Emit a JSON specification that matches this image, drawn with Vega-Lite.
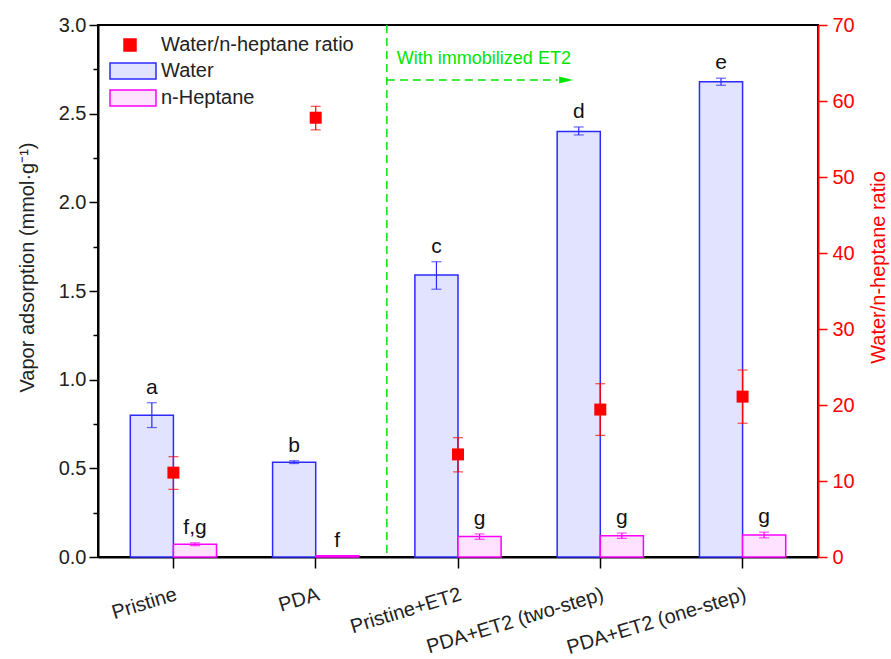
{
  "$schema": "https://vega.github.io/schema/vega-lite/v6.json",
  "width": 720,
  "height": 532,
  "autosize": {"type": "none"},
  "padding": {"left": 98, "top": 25, "right": 73, "bottom": 102},
  "background": "white",
  "config": {
    "font": "Liberation Sans",
    "view": {"stroke": "black", "strokeWidth": 2},
    "axis": {
      "grid": false,
      "labelFont": "Liberation Sans",
      "titleFont": "Liberation Sans",
      "labelFontSize": 20,
      "titleFontSize": 20,
      "titleFontWeight": "normal",
      "labelColor": "#222222",
      "titleColor": "#222222",
      "domainColor": "black",
      "tickColor": "black",
      "domainWidth": 2,
      "tickWidth": 1.5
    }
  },
  "datasets": {
    "bars": [
      {"sample": "Pristine", "series": "Water", "value": 0.80, "lo": 0.73, "hi": 0.87, "letter": "a"},
      {"sample": "PDA", "series": "Water", "value": 0.535, "lo": 0.527, "hi": 0.543, "letter": "b"},
      {"sample": "Pristine+ET2", "series": "Water", "value": 1.59, "lo": 1.51, "hi": 1.665, "letter": "c"},
      {"sample": "PDA+ET2 (two-step)", "series": "Water", "value": 2.40, "lo": 2.38, "hi": 2.425, "letter": "d"},
      {"sample": "PDA+ET2 (one-step)", "series": "Water", "value": 2.68, "lo": 2.66, "hi": 2.70, "letter": "e"},
      {"sample": "Pristine", "series": "n-Heptane", "value": 0.072, "lo": 0.064, "hi": 0.08, "letter": "f,g"},
      {"sample": "PDA", "series": "n-Heptane", "value": 0.007, "lo": 0.006, "hi": 0.008, "letter": "f"},
      {"sample": "Pristine+ET2", "series": "n-Heptane", "value": 0.115, "lo": 0.1, "hi": 0.13, "letter": "g"},
      {"sample": "PDA+ET2 (two-step)", "series": "n-Heptane", "value": 0.12, "lo": 0.105, "hi": 0.135, "letter": "g"},
      {"sample": "PDA+ET2 (one-step)", "series": "n-Heptane", "value": 0.124, "lo": 0.108, "hi": 0.14, "letter": "g"}
    ],
    "ratio": [
      {"sample": "Pristine", "series": "Water/n-heptane ratio", "ratio": 11.1, "lo": 8.9, "hi": 13.2},
      {"sample": "PDA", "series": "Water/n-heptane ratio", "ratio": 57.8, "lo": 56.2, "hi": 59.3},
      {"sample": "Pristine+ET2", "series": "Water/n-heptane ratio", "ratio": 13.5, "lo": 11.2, "hi": 15.7},
      {"sample": "PDA+ET2 (two-step)", "series": "Water/n-heptane ratio", "ratio": 19.4, "lo": 16.0, "hi": 22.8},
      {"sample": "PDA+ET2 (one-step)", "series": "Water/n-heptane ratio", "ratio": 21.1, "lo": 17.6, "hi": 24.6}
    ],
    "annot": [
      {"start": "Pristine+ET2", "end": "PDA+ET2 (two-step)", "y": 2.69, "ty": 2.81, "label": "With immobilized ET2"}
    ]
  },
  "resolve": {"scale": {"y": "independent"}},
  "layer": [
    {
      "layer": [
        {
          "data": {"name": "bars"},
          "mark": {"type": "bar", "strokeWidth": 1.5},
          "encoding": {
            "x": {
              "field": "sample", "type": "nominal", "title": null,
              "scale": {"domain": ["Pristine", "PDA", "Pristine+ET2", "PDA+ET2 (two-step)", "PDA+ET2 (one-step)"], "paddingInner": 0, "paddingOuter": 0.03},
              "axis": {"orient": "bottom", "title": null, "labelAngle": -17, "labelAlign": "right", "labelBaseline": "top", "labelPadding": 16, "tickSize": 11, "tickWidth": 1.5, "domainWidth": 2, "labelLimit": 400}
            },
            "xOffset": {"field": "series", "type": "nominal", "scale": {"domain": ["Water", "n-Heptane"], "paddingInner": 0, "paddingOuter": 0.65}},
            "y": {
              "field": "value", "type": "quantitative", "title": "Vapor adsorption (mmol·g⁻¹)",
              "scale": {"domain": [0, 3], "nice": false},
              "axis": {
                "orient": "left",
                "title": "Vapor adsorption (mmol·g⁻¹)",
                "values": [0, 0.25, 0.5, 0.75, 1, 1.25, 1.5, 1.75, 2, 2.25, 2.5, 2.75, 3],
                "labelExpr": "datum.value % 0.5 == 0 ? format(datum.value, '.1f') : ''",
                "tickSize": {"condition": {"test": "datum.value % 0.5 == 0", "value": 9}, "value": 5},
                "labelPadding": 3,
                "titlePadding": 21,
                "titleY": 242
              }
            },
            "fill": {
              "field": "series", "type": "nominal", "title": null,
              "scale": {"domain": ["Water/n-heptane ratio", "Water", "n-Heptane"], "range": ["#ff0000", "#e2e4ff", "#ffe2ff"]},
              "legend": {"orient": "none", "legendX": 21, "legendY": 9, "padding": 0, "title": null, "labelFontSize": 20, "labelFont": "Liberation Sans", "labelColor": "#222222", "labelLimit": 400, "symbolSize": 400, "symbolStrokeWidth": 1.5, "labelOffset": 20, "rowPadding": 5}
            },
            "stroke": {
              "field": "series", "type": "nominal", "title": null,
              "scale": {"domain": ["Water/n-heptane ratio", "Water", "n-Heptane"], "range": ["#ff0000", "#2a2aff", "#ff00ff"]},
              "legend": {"orient": "none", "legendX": 21, "legendY": 9, "padding": 0, "title": null, "labelFontSize": 20, "labelFont": "Liberation Sans", "labelColor": "#222222", "labelLimit": 400, "symbolSize": 400, "symbolStrokeWidth": 1.5, "labelOffset": 20, "rowPadding": 5}
            }
          }
        },
        {
          "data": {"name": "bars"},
          "mark": {"type": "rule", "strokeWidth": 1.2},
          "encoding": {
            "x": {"field": "sample", "type": "nominal"},
            "xOffset": {"field": "series", "type": "nominal"},
            "y": {"field": "lo", "type": "quantitative"},
            "y2": {"field": "hi"},
            "color": {"field": "series", "type": "nominal", "scale": {"domain": ["Water", "n-Heptane"], "range": ["#2a2aff", "#ff00ff"]}, "legend": null}
          }
        },
        {
          "data": {"name": "bars"},
          "mark": {"type": "tick", "orient": "horizontal", "size": 10, "thickness": 1.2},
          "encoding": {
            "x": {"field": "sample", "type": "nominal"},
            "xOffset": {"field": "series", "type": "nominal"},
            "y": {"field": "lo", "type": "quantitative"},
            "color": {"field": "series", "type": "nominal", "legend": null}
          }
        },
        {
          "data": {"name": "bars"},
          "mark": {"type": "tick", "orient": "horizontal", "size": 10, "thickness": 1.2},
          "encoding": {
            "x": {"field": "sample", "type": "nominal"},
            "xOffset": {"field": "series", "type": "nominal"},
            "y": {"field": "hi", "type": "quantitative"},
            "color": {"field": "series", "type": "nominal", "legend": null}
          }
        },
        {
          "data": {"name": "bars"},
          "mark": {"type": "text", "baseline": "alphabetic", "dy": -9, "fontSize": 21, "font": "Liberation Sans", "color": "#111111"},
          "encoding": {
            "x": {"field": "sample", "type": "nominal"},
            "xOffset": {"field": "series", "type": "nominal"},
            "y": {"field": "hi", "type": "quantitative"},
            "text": {"field": "letter"}
          }
        },
        {
          "data": {"name": "annot"},
          "mark": {"type": "rule", "color": "#00e600", "strokeWidth": 1.5, "strokeDash": [8, 5]},
          "encoding": {
            "x": {"field": "start", "type": "nominal", "bandPosition": 0}
          }
        },
        {
          "data": {"name": "annot"},
          "mark": {"type": "rule", "color": "#00e600", "strokeWidth": 1.5, "strokeDash": [8, 5]},
          "encoding": {
            "x": {"field": "start", "type": "nominal", "bandPosition": 0},
            "x2": {"field": "end", "bandPosition": 0.2},
            "y": {"field": "y", "type": "quantitative"}
          }
        },
        {
          "data": {"name": "annot"},
          "mark": {"type": "point", "shape": "M-1,-0.5L1,0L-1,0.5Z", "size": 196, "filled": true, "color": "#00e600", "opacity": 1},
          "encoding": {
            "x": {"field": "end", "type": "nominal", "bandPosition": 0.26},
            "y": {"field": "y", "type": "quantitative"}
          }
        },
        {
          "data": {"name": "annot"},
          "mark": {"type": "text", "align": "left", "baseline": "middle", "dx": 10, "fontSize": 18, "font": "Liberation Sans", "color": "#00e600"},
          "encoding": {
            "x": {"field": "start", "type": "nominal", "bandPosition": 0},
            "y": {"field": "ty", "type": "quantitative"},
            "text": {"field": "label"}
          }
        }
      ]
    },
    {
      "data": {"name": "ratio"},
      "layer": [
        {
          "mark": {"type": "rule", "color": "#ff0000", "strokeWidth": 1.2},
          "encoding": {
            "x": {"field": "sample", "type": "nominal"},
            "y": {
              "field": "lo", "type": "quantitative", "title": "Water/n-heptane ratio",
              "scale": {"domain": [0, 70], "nice": false},
              "axis": {
                "orient": "right",
                "title": "Water/n-heptane ratio",
                "values": [0, 5, 10, 15, 20, 25, 30, 35, 40, 45, 50, 55, 60, 65, 70],
                "labelExpr": "datum.value % 10 == 0 ? format(datum.value, 'd') : ''",
                "tickSize": {"condition": {"test": "datum.value % 10 == 0", "value": 9}, "value": 5},
                "labelPadding": 5,
                "titlePadding": 14,
                "titleAngle": 270,
                "titleBaseline": "top",
                "titleY": 242,
                "domainColor": "#ff0000",
                "tickColor": "#ff0000",
                "labelColor": "#ff0000",
                "titleColor": "#ff0000"
              }
            },
            "y2": {"field": "hi"}
          }
        },
        {
          "mark": {"type": "tick", "orient": "horizontal", "size": 10, "thickness": 1.2, "color": "#ff0000"},
          "encoding": {
            "x": {"field": "sample", "type": "nominal"},
            "y": {"field": "lo", "type": "quantitative"}
          }
        },
        {
          "mark": {"type": "tick", "orient": "horizontal", "size": 10, "thickness": 1.2, "color": "#ff0000"},
          "encoding": {
            "x": {"field": "sample", "type": "nominal"},
            "y": {"field": "hi", "type": "quantitative"}
          }
        },
        {
          "mark": {"type": "point", "size": 400, "filled": true, "opacity": 1, "strokeWidth": 0},
          "encoding": {
            "x": {"field": "sample", "type": "nominal"},
            "y": {"field": "ratio", "type": "quantitative"},
            "shape": {
              "field": "series", "type": "nominal", "title": null,
              "scale": {"domain": ["Water/n-heptane ratio", "Water", "n-Heptane"], "range": ["M-0.6,-0.6H0.6V0.6H-0.6Z", "M-2,-0.8H2.6V0.8H-2Z", "M-2,-0.8H2.6V0.8H-2Z"]},
              "legend": {"orient": "none", "legendX": 21, "legendY": 9, "padding": 0, "title": null, "labelFontSize": 20, "labelFont": "Liberation Sans", "labelColor": "#222222", "labelLimit": 400, "symbolSize": 400, "symbolStrokeWidth": 1.5, "labelOffset": 20, "rowPadding": 5}
            },
            "fill": {"field": "series", "type": "nominal"},
            "stroke": {"field": "series", "type": "nominal"}
          }
        }
      ]
    }
  ]
}
